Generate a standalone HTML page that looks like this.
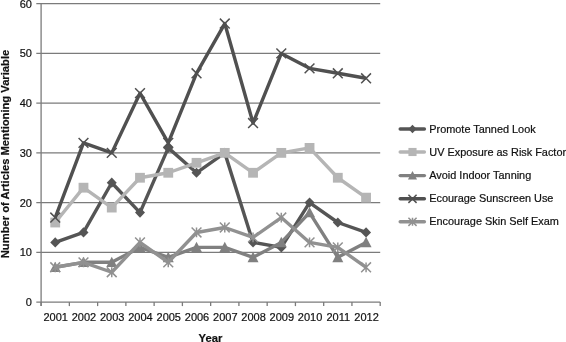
<!DOCTYPE html><html><head><meta charset="utf-8"><title>Chart</title><style>html,body{margin:0;padding:0;background:#fff}svg{display:block}text{font-family:"Liberation Sans",Arial,Helvetica,sans-serif;fill:#111;stroke:#111;stroke-width:0.2px}</style></head><body>
<svg width="566" height="342" viewBox="0 0 566 342">
<rect width="566" height="342" fill="#fff"/>
<line x1="36.300000000000004" y1="302.10" x2="380.2" y2="302.10" stroke="#7b7b7b" stroke-width="1.3"/>
<text x="31.9" y="306.20" font-size="11" text-anchor="end">0</text>
<line x1="36.300000000000004" y1="252.36" x2="380.2" y2="252.36" stroke="#7b7b7b" stroke-width="1.3"/>
<text x="31.9" y="256.46" font-size="11" text-anchor="end">10</text>
<line x1="36.300000000000004" y1="202.62" x2="380.2" y2="202.62" stroke="#7b7b7b" stroke-width="1.3"/>
<text x="31.9" y="206.72" font-size="11" text-anchor="end">20</text>
<line x1="36.300000000000004" y1="152.88" x2="380.2" y2="152.88" stroke="#7b7b7b" stroke-width="1.3"/>
<text x="31.9" y="156.97" font-size="11" text-anchor="end">30</text>
<line x1="36.300000000000004" y1="103.13" x2="380.2" y2="103.13" stroke="#7b7b7b" stroke-width="1.3"/>
<text x="31.9" y="107.23" font-size="11" text-anchor="end">40</text>
<line x1="36.300000000000004" y1="53.39" x2="380.2" y2="53.39" stroke="#7b7b7b" stroke-width="1.3"/>
<text x="31.9" y="57.49" font-size="11" text-anchor="end">50</text>
<line x1="36.300000000000004" y1="3.65" x2="380.2" y2="3.65" stroke="#7b7b7b" stroke-width="1.3"/>
<text x="31.9" y="7.75" font-size="11" text-anchor="end">60</text>
<line x1="41.1" y1="3.65" x2="41.1" y2="306.1" stroke="#7b7b7b" stroke-width="1.3"/>
<line x1="41.10" y1="302.1" x2="41.10" y2="306.1" stroke="#7b7b7b" stroke-width="1.3"/>
<line x1="69.36" y1="302.1" x2="69.36" y2="306.1" stroke="#7b7b7b" stroke-width="1.3"/>
<line x1="97.62" y1="302.1" x2="97.62" y2="306.1" stroke="#7b7b7b" stroke-width="1.3"/>
<line x1="125.88" y1="302.1" x2="125.88" y2="306.1" stroke="#7b7b7b" stroke-width="1.3"/>
<line x1="154.13" y1="302.1" x2="154.13" y2="306.1" stroke="#7b7b7b" stroke-width="1.3"/>
<line x1="182.39" y1="302.1" x2="182.39" y2="306.1" stroke="#7b7b7b" stroke-width="1.3"/>
<line x1="210.65" y1="302.1" x2="210.65" y2="306.1" stroke="#7b7b7b" stroke-width="1.3"/>
<line x1="238.91" y1="302.1" x2="238.91" y2="306.1" stroke="#7b7b7b" stroke-width="1.3"/>
<line x1="267.17" y1="302.1" x2="267.17" y2="306.1" stroke="#7b7b7b" stroke-width="1.3"/>
<line x1="295.42" y1="302.1" x2="295.42" y2="306.1" stroke="#7b7b7b" stroke-width="1.3"/>
<line x1="323.68" y1="302.1" x2="323.68" y2="306.1" stroke="#7b7b7b" stroke-width="1.3"/>
<line x1="351.94" y1="302.1" x2="351.94" y2="306.1" stroke="#7b7b7b" stroke-width="1.3"/>
<line x1="380.20" y1="302.1" x2="380.20" y2="306.1" stroke="#7b7b7b" stroke-width="1.3"/>
<text x="55.73" y="321" font-size="11" text-anchor="middle">2001</text>
<text x="83.99" y="321" font-size="11" text-anchor="middle">2002</text>
<text x="112.25" y="321" font-size="11" text-anchor="middle">2003</text>
<text x="140.50" y="321" font-size="11" text-anchor="middle">2004</text>
<text x="168.76" y="321" font-size="11" text-anchor="middle">2005</text>
<text x="197.02" y="321" font-size="11" text-anchor="middle">2006</text>
<text x="225.28" y="321" font-size="11" text-anchor="middle">2007</text>
<text x="253.54" y="321" font-size="11" text-anchor="middle">2008</text>
<text x="281.80" y="321" font-size="11" text-anchor="middle">2009</text>
<text x="310.05" y="321" font-size="11" text-anchor="middle">2010</text>
<text x="338.31" y="321" font-size="11" text-anchor="middle">2011</text>
<text x="366.57" y="321" font-size="11" text-anchor="middle">2012</text>
<text x="210.5" y="342.2" font-size="11.25" font-weight="bold" text-anchor="middle">Year</text>
<text transform="translate(8.6,154) rotate(-90)" font-size="11.2" font-weight="bold" text-anchor="middle">Number of Articles Mentioning Variable</text>
<polyline points="55.23,242.41 83.49,232.46 111.75,182.72 140.00,212.56 168.26,147.90 196.52,172.77 224.78,152.88 253.04,242.41 281.30,247.38 309.55,202.62 337.81,222.51 366.07,232.46" fill="none" stroke="#555555" stroke-width="3.4" stroke-linejoin="round" stroke-linecap="butt"/>
<path d="M55.23,237.31L60.23,242.41L55.23,247.51L50.23,242.41Z" fill="#555555"/>
<path d="M83.49,227.36L88.49,232.46L83.49,237.56L78.49,232.46Z" fill="#555555"/>
<path d="M111.75,177.62L116.75,182.72L111.75,187.82L106.75,182.72Z" fill="#555555"/>
<path d="M140.00,207.47L145.00,212.56L140.00,217.66L135.00,212.56Z" fill="#555555"/>
<path d="M168.26,142.80L173.26,147.90L168.26,153.00L163.26,147.90Z" fill="#555555"/>
<path d="M196.52,167.67L201.52,172.77L196.52,177.87L191.52,172.77Z" fill="#555555"/>
<path d="M224.78,147.78L229.78,152.88L224.78,157.97L219.78,152.88Z" fill="#555555"/>
<path d="M253.04,237.31L258.04,242.41L253.04,247.51L248.04,242.41Z" fill="#555555"/>
<path d="M281.30,242.28L286.30,247.38L281.30,252.48L276.30,247.38Z" fill="#555555"/>
<path d="M309.55,197.52L314.55,202.62L309.55,207.72L304.55,202.62Z" fill="#555555"/>
<path d="M337.81,217.41L342.81,222.51L337.81,227.61L332.81,222.51Z" fill="#555555"/>
<path d="M366.07,227.36L371.07,232.46L366.07,237.56L361.07,232.46Z" fill="#555555"/>
<polyline points="55.23,222.51 83.49,187.69 111.75,207.59 140.00,177.75 168.26,172.77 196.52,162.82 224.78,152.88 253.04,172.77 281.30,152.88 309.55,147.90 337.81,177.75 366.07,197.64" fill="none" stroke="#b5b5b5" stroke-width="3.4" stroke-linejoin="round" stroke-linecap="butt"/>
<rect x="50.33" y="217.61" width="9.8" height="9.8" fill="#b5b5b5"/>
<rect x="78.59" y="182.79" width="9.8" height="9.8" fill="#b5b5b5"/>
<rect x="106.85" y="202.69" width="9.8" height="9.8" fill="#b5b5b5"/>
<rect x="135.10" y="172.85" width="9.8" height="9.8" fill="#b5b5b5"/>
<rect x="163.36" y="167.87" width="9.8" height="9.8" fill="#b5b5b5"/>
<rect x="191.62" y="157.92" width="9.8" height="9.8" fill="#b5b5b5"/>
<rect x="219.88" y="147.97" width="9.8" height="9.8" fill="#b5b5b5"/>
<rect x="248.14" y="167.87" width="9.8" height="9.8" fill="#b5b5b5"/>
<rect x="276.40" y="147.97" width="9.8" height="9.8" fill="#b5b5b5"/>
<rect x="304.65" y="143.00" width="9.8" height="9.8" fill="#b5b5b5"/>
<rect x="332.91" y="172.85" width="9.8" height="9.8" fill="#b5b5b5"/>
<rect x="361.17" y="192.74" width="9.8" height="9.8" fill="#b5b5b5"/>
<polyline points="55.23,267.28 83.49,262.31 111.75,262.31 140.00,247.38 168.26,257.33 196.52,247.38 224.78,247.38 253.04,257.33 281.30,242.41 309.55,212.56 337.81,257.33 366.07,242.41" fill="none" stroke="#808080" stroke-width="3.4" stroke-linejoin="round" stroke-linecap="butt"/>
<path d="M55.23,261.68L60.73,272.08L49.73,272.08Z" fill="#808080"/>
<path d="M83.49,256.71L88.99,267.11L77.99,267.11Z" fill="#808080"/>
<path d="M111.75,256.71L117.25,267.11L106.25,267.11Z" fill="#808080"/>
<path d="M140.00,241.78L145.50,252.18L134.50,252.18Z" fill="#808080"/>
<path d="M168.26,251.73L173.76,262.13L162.76,262.13Z" fill="#808080"/>
<path d="M196.52,241.78L202.02,252.18L191.02,252.18Z" fill="#808080"/>
<path d="M224.78,241.78L230.28,252.18L219.28,252.18Z" fill="#808080"/>
<path d="M253.04,251.73L258.54,262.13L247.54,262.13Z" fill="#808080"/>
<path d="M281.30,236.81L286.80,247.21L275.80,247.21Z" fill="#808080"/>
<path d="M309.55,206.97L315.05,217.37L304.05,217.37Z" fill="#808080"/>
<path d="M337.81,251.73L343.31,262.13L332.31,262.13Z" fill="#808080"/>
<path d="M366.07,236.81L371.57,247.21L360.57,247.21Z" fill="#808080"/>
<polyline points="55.23,217.54 83.49,142.93 111.75,152.88 140.00,93.19 168.26,142.93 196.52,73.29 224.78,23.55 253.04,123.03 281.30,53.39 309.55,68.31 337.81,73.29 366.07,78.26" fill="none" stroke="#505050" stroke-width="3.4" stroke-linejoin="round" stroke-linecap="butt"/>
<path d="M50.33,212.64L60.13,222.44M50.33,222.44L60.13,212.64" stroke="#505050" stroke-width="1.5" fill="none"/>
<path d="M78.59,138.03L88.39,147.83M78.59,147.83L88.39,138.03" stroke="#505050" stroke-width="1.5" fill="none"/>
<path d="M106.85,147.97L116.65,157.78M106.85,157.78L116.65,147.97" stroke="#505050" stroke-width="1.5" fill="none"/>
<path d="M135.10,88.28L144.90,98.09M135.10,98.09L144.90,88.28" stroke="#505050" stroke-width="1.5" fill="none"/>
<path d="M163.36,138.03L173.16,147.83M163.36,147.83L173.16,138.03" stroke="#505050" stroke-width="1.5" fill="none"/>
<path d="M191.62,68.39L201.42,78.19M191.62,78.19L201.42,68.39" stroke="#505050" stroke-width="1.5" fill="none"/>
<path d="M219.88,18.65L229.68,28.45M219.88,28.45L229.68,18.65" stroke="#505050" stroke-width="1.5" fill="none"/>
<path d="M248.14,118.13L257.94,127.93M248.14,127.93L257.94,118.13" stroke="#505050" stroke-width="1.5" fill="none"/>
<path d="M276.40,48.49L286.20,58.29M276.40,58.29L286.20,48.49" stroke="#505050" stroke-width="1.5" fill="none"/>
<path d="M304.65,63.41L314.45,73.21M304.65,73.21L314.45,63.41" stroke="#505050" stroke-width="1.5" fill="none"/>
<path d="M332.91,68.39L342.71,78.19M332.91,78.19L342.71,68.39" stroke="#505050" stroke-width="1.5" fill="none"/>
<path d="M361.17,73.36L370.97,83.16M361.17,83.16L370.97,73.36" stroke="#505050" stroke-width="1.5" fill="none"/>
<polyline points="55.23,267.28 83.49,262.31 111.75,272.25 140.00,242.41 168.26,262.31 196.52,232.46 224.78,227.49 253.04,237.44 281.30,217.54 309.55,242.41 337.81,247.38 366.07,267.28" fill="none" stroke="#919191" stroke-width="3.4" stroke-linejoin="round" stroke-linecap="butt"/>
<path d="M50.33,262.38L60.13,272.18M50.33,272.18L60.13,262.38M55.23,262.38L55.23,272.18" stroke="#919191" stroke-width="1.5" fill="none"/>
<path d="M78.59,257.41L88.39,267.21M78.59,267.21L88.39,257.41M83.49,257.41L83.49,267.21" stroke="#919191" stroke-width="1.5" fill="none"/>
<path d="M106.85,267.36L116.65,277.15M106.85,277.15L116.65,267.36M111.75,267.36L111.75,277.15" stroke="#919191" stroke-width="1.5" fill="none"/>
<path d="M135.10,237.51L144.90,247.31M135.10,247.31L144.90,237.51M140.00,237.51L140.00,247.31" stroke="#919191" stroke-width="1.5" fill="none"/>
<path d="M163.36,257.41L173.16,267.21M163.36,267.21L173.16,257.41M168.26,257.41L168.26,267.21" stroke="#919191" stroke-width="1.5" fill="none"/>
<path d="M191.62,227.56L201.42,237.36M191.62,237.36L201.42,227.56M196.52,227.56L196.52,237.36" stroke="#919191" stroke-width="1.5" fill="none"/>
<path d="M219.88,222.59L229.68,232.39M219.88,232.39L229.68,222.59M224.78,222.59L224.78,232.39" stroke="#919191" stroke-width="1.5" fill="none"/>
<path d="M248.14,232.54L257.94,242.34M248.14,242.34L257.94,232.54M253.04,232.54L253.04,242.34" stroke="#919191" stroke-width="1.5" fill="none"/>
<path d="M276.40,212.64L286.20,222.44M276.40,222.44L286.20,212.64M281.30,212.64L281.30,222.44" stroke="#919191" stroke-width="1.5" fill="none"/>
<path d="M304.65,237.51L314.45,247.31M304.65,247.31L314.45,237.51M309.55,237.51L309.55,247.31" stroke="#919191" stroke-width="1.5" fill="none"/>
<path d="M332.91,242.48L342.71,252.28M332.91,252.28L342.71,242.48M337.81,242.48L337.81,252.28" stroke="#919191" stroke-width="1.5" fill="none"/>
<path d="M361.17,262.38L370.97,272.18M361.17,272.18L370.97,262.38M366.07,262.38L366.07,272.18" stroke="#919191" stroke-width="1.5" fill="none"/>
<line x1="400.2" y1="129" x2="424.4" y2="129" stroke="#555555" stroke-width="3.4" stroke-linecap="round"/>
<path d="M412.50,124.77L416.65,129.00L412.50,133.23L408.35,129.00Z" fill="#555555"/>
<text x="429.3" y="132.60" font-size="10.9">Promote Tanned Look</text>
<line x1="400.2" y1="152" x2="424.4" y2="152" stroke="#b5b5b5" stroke-width="3.4" stroke-linecap="round"/>
<rect x="408.43" y="147.93" width="8.134" height="8.134" fill="#b5b5b5"/>
<text x="429.3" y="155.60" font-size="10.9">UV Exposure as Risk Factor</text>
<line x1="400.2" y1="175.6" x2="424.4" y2="175.6" stroke="#808080" stroke-width="3.4" stroke-linecap="round"/>
<path d="M412.50,170.95L417.06,179.58L407.94,179.58Z" fill="#808080"/>
<text x="429.3" y="179.20" font-size="10.9">Avoid Indoor Tanning</text>
<line x1="400.2" y1="198.8" x2="424.4" y2="198.8" stroke="#505050" stroke-width="3.4" stroke-linecap="round"/>
<path d="M408.43,194.73L416.57,202.87M408.43,202.87L416.57,194.73" stroke="#505050" stroke-width="1.5" fill="none"/>
<text x="429.3" y="202.40" font-size="10.9">Ecourage Sunscreen Use</text>
<line x1="400.2" y1="221.8" x2="424.4" y2="221.8" stroke="#919191" stroke-width="3.4" stroke-linecap="round"/>
<path d="M408.43,217.73L416.57,225.87M408.43,225.87L416.57,217.73M412.50,217.73L412.50,225.87" stroke="#919191" stroke-width="1.5" fill="none"/>
<text x="429.3" y="225.40" font-size="10.9">Encourage Skin Self Exam</text>
</svg></body></html>
